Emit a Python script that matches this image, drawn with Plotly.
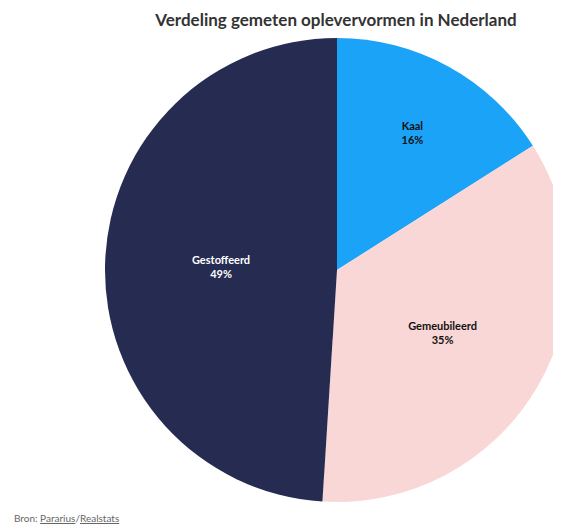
import plotly.graph_objects as go

labels = ["Kaal", "Gemeubileerd", "Gestoffeerd"]
values = [16, 35, 49]
colors = ["#1aa3f7", "#f9d7d6", "#262b52"]
text_colors = ["#111111", "#111111", "#ffffff"]

W, H = 561, 527
# page body has an 8px offset; positions below are in figure pixels
cx, cy, r = 329, 262, 232

fig = go.Figure(go.Pie(
    labels=labels,
    values=values,
    sort=False,
    direction="clockwise",
    rotation=0,
    marker=dict(colors=colors, line=dict(width=0)),
    texttemplate="<b>%{label}</b><br><b>%{value}%</b>",
    textposition="inside",
    insidetextorientation="horizontal",
    insidetextfont=dict(family="Lato", size=11, color=text_colors),
    hoverinfo="label+percent",
    showlegend=False,
    domain=dict(x=[max(0, (cx - r) / W), min(1, (cx + r) / W)],
                y=[(H - cy - r) / H, (H - cy + r) / H]),
))

fig.update_layout(
    width=W, height=H,
    margin=dict(l=0, r=0, t=0, b=0),
    paper_bgcolor="white",
    title=dict(text="<b>Verdeling gemeten oplevervormen in Nederland</b>",
               x=328 / W, xanchor="center", y=1 - 12 / H, yanchor="middle",
               font=dict(family="Lato", size=17, color="#333333")),
    annotations=[dict(
        text="Bron: <u>Pararius</u>/<u>Realstats</u>",
        x=4 / W, y=9 / H, xref="paper", yref="paper",
        xanchor="left", yanchor="bottom", showarrow=False,
        font=dict(family="Lato", size=10, color="#666666"))],
)

fig.write_html("out.html")
